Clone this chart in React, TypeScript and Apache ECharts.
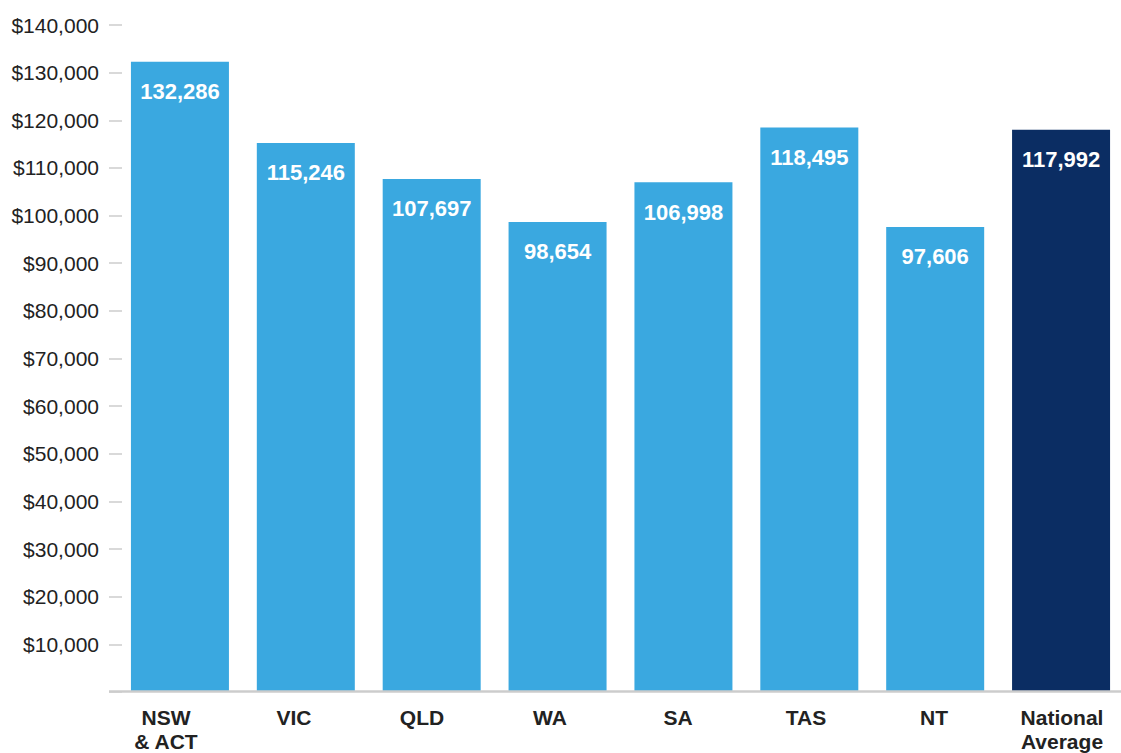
import React, { useEffect, useRef } from "react";
import * as echarts from "echarts";

const categories = ["NSW\n& ACT", "VIC", "QLD", "WA", "SA", "TAS", "NT", "National\nAverage"];
const values = [132286, 115246, 107697, 98654, 106998, 118495, 97606, 117992];
const barColors = ["#3aa8e0", "#3aa8e0", "#3aa8e0", "#3aa8e0", "#3aa8e0", "#3aa8e0", "#3aa8e0", "#0b2d63"];
const yMin = 0;
const yMax = 140000;
const yStep = 10000;

const CHART_W = 1140;

export default function App() {
  const ref = useRef<HTMLDivElement>(null);
  useEffect(() => {
    if (!ref.current) return;
    const chart = echarts.init(ref.current, null, { renderer: "svg" });
    const font = "'Liberation Sans', Arial, Helvetica, sans-serif";
    chart.setOption({
      animation: false,
      grid: [
        { left: 117, right: CHART_W - 117 - 1007, top: 25, bottom: 61, containLabel: false },
        { left: 102, right: CHART_W - 102 - 1024, top: 25, bottom: 61, containLabel: false },
      ],
      xAxis: [
        {
          type: "category",
          gridIndex: 0,
          data: categories,
          axisLine: { show: false },
          axisTick: { show: false },
          axisLabel: { show: false },
        },
        {
          type: "category",
          gridIndex: 1,
          data: categories,
          axisLine: { show: false },
          axisTick: { show: false },
          axisLabel: {
            interval: 0,
            margin: 14,
            color: "#222222",
            fontFamily: font,
            fontWeight: "bold",
            fontSize: 21,
            lineHeight: 24,
          },
        },
      ],
      yAxis: [
        {
          type: "value",
          gridIndex: 0,
          min: yMin,
          max: yMax,
          interval: yStep,
          offset: 8,
          axisLine: { show: false },
          axisTick: { show: true, inside: true, length: 13, lineStyle: { color: "#cccccc", width: 1.5 } },
          splitLine: { show: false },
          axisLabel: {
            margin: 10,
            color: "#222222",
            fontFamily: font,
            fontSize: 21,
            formatter: (v: number) => (v === 0 ? "" : "$" + v.toLocaleString("en-US")),
          },
        },
        {
          type: "value",
          gridIndex: 1,
          min: yMin,
          max: yMax,
          show: false,
        },
      ],
      graphic: [
        {
          type: "line",
          z: 100,
          shape: { x1: 109, y1: 691.5, x2: 1121, y2: 691.5 },
          style: { stroke: "#cccccc", lineWidth: 2.5 },
        },
      ],
      series: [
        {
          type: "bar",
          xAxisIndex: 0,
          yAxisIndex: 0,
          barWidth: 98,
          data: values.map((v, i) => ({ value: v, itemStyle: { color: barColors[i] } })),
          label: {
            show: true,
            position: "insideTop",
            distance: 19,
            color: "#ffffff",
            fontFamily: font,
            fontWeight: "bold",
            fontSize: 22,
            formatter: (p: any) => Number(p.value).toLocaleString("en-US"),
          },
        },
      ],
    });
    return () => chart.dispose();
  }, []);
  return (
    <div
      style={{ position: "fixed", left: 0, top: 0, width: 1121, height: 753, overflow: "hidden", background: "#ffffff" }}
    >
      <div ref={ref} style={{ width: CHART_W, height: 753 }} />
    </div>
  );
}
